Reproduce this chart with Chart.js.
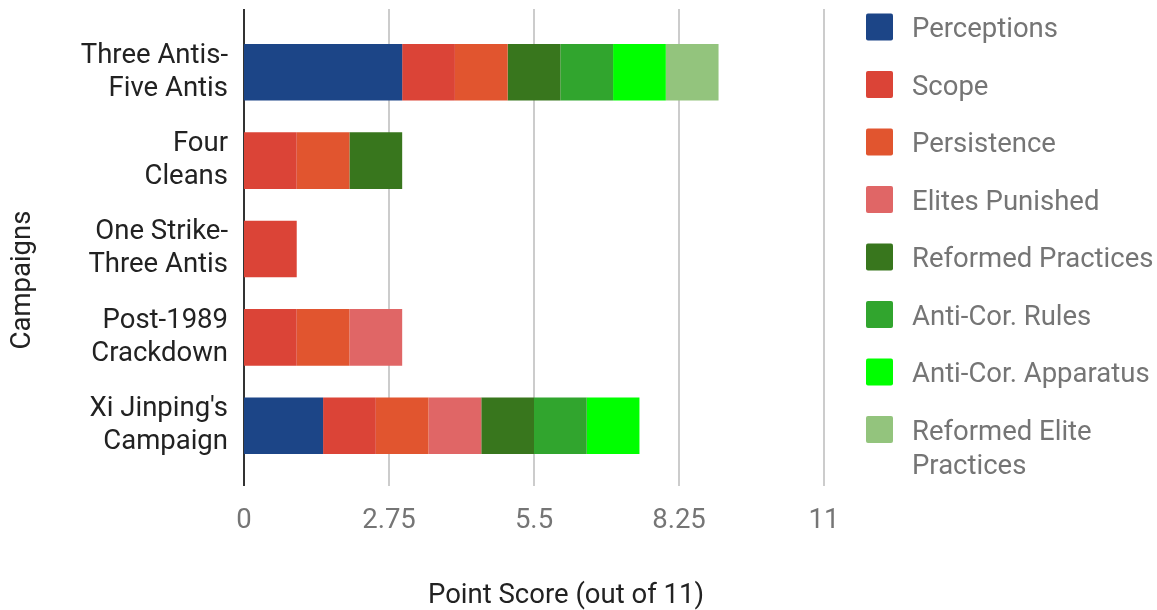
<!DOCTYPE html>
<html>
<head>
<meta charset="utf-8">
<script src="https://cdn.jsdelivr.net/npm/chart.js@4/dist/chart.umd.min.js"></script>
<style>
  html, body { margin: 0; padding: 0; background: #fff; }
  #wrap { position: relative; width: 1157px; height: 610px; }
</style>
</head>
<body>
<div id="wrap"><canvas id="chart" width="1157" height="610"></canvas></div>
<script>
// campaigns, top to bottom
const campaigns = [
  ['Three Antis-', 'Five Antis'],
  ['Four', 'Cleans'],
  ['One Strike-', 'Three Antis'],
  ['Post-1989', 'Crackdown'],
  ["Xi Jinping's", 'Campaign']
];

// point scores per criterion, same order as campaigns
const perceptions       = [3, 0, 0, 0, 1.5];
const scope             = [1, 1, 1, 1, 1];
const persistence       = [1, 1, 0, 1, 1];
const elitesPunished    = [0, 0, 0, 1, 1];
const reformedPractices = [1, 1, 0, 0, 1];
const antiCorRules      = [1, 0, 0, 0, 1];
const antiCorApparatus  = [1, 0, 0, 0, 1];
const reformedElite     = [1, 0, 0, 0, 0];

const xTicks = [0, 2.75, 5.5, 8.25, 11];
const xTickLabels = ['0', '2.75', '5.5', '8.25', '11'];

const series = [
  { label: 'Perceptions', data: perceptions, color: '#1c4587' },
  { label: 'Scope', data: scope, color: '#db4437' },
  { label: 'Persistence', data: persistence, color: '#e1552f' },
  { label: 'Elites Punished', data: elitesPunished, color: '#e06666' },
  { label: 'Reformed Practices', data: reformedPractices, color: '#38761d' },
  { label: 'Anti-Cor. Rules', data: antiCorRules, color: '#31a52e' },
  { label: 'Anti-Cor. Apparatus', data: antiCorApparatus, color: '#00ff00' },
  { label: 'Reformed Elite Practices', data: reformedElite, color: '#93c47d' }
];

const FONT = 'Roboto, "Noto Sans", sans-serif';
const FS = 27.5;

// gridlines and the zero line run a bit past the plot area, like the original
const extendedGrid = {
  id: 'extendedGrid',
  beforeDatasetsDraw(chart) {
    const { ctx, scales: { x } } = chart;
    const top = 9, bottom = 486;
    ctx.save();
    xTicks.forEach(v => {
      const px = Math.round(x.getPixelForValue(v));
      ctx.beginPath();
      ctx.lineWidth = 2;
      ctx.strokeStyle = v === 0 ? '#333333' : '#cccccc';
      ctx.moveTo(px, top);
      ctx.lineTo(px, bottom);
      ctx.stroke();
    });
    ctx.restore();
  }
};

// axis titles + wrapped legend on the right
const sideText = {
  id: 'sideText',
  afterDraw(chart) {
    const ctx = chart.ctx;
    ctx.save();
    ctx.font = FS + 'px ' + FONT;
    ctx.fillStyle = '#222222';
    ctx.textAlign = 'center';
    ctx.textBaseline = 'middle';
    ctx.fillText('Point Score (out of 11)', 566, 596);
    ctx.translate(23, 280);
    ctx.rotate(-Math.PI / 2);
    ctx.fillText('Campaigns', 0, 0);
    ctx.restore();

    ctx.save();
    ctx.font = FS + 'px ' + FONT;
    ctx.textAlign = 'left';
    ctx.textBaseline = 'middle';
    const boxX = 866, textX = 912, maxW = 245, step = 57.5, lineH = 34;
    chart.data.datasets.forEach((ds, i) => {
      const cy = 27 + i * step;
      ctx.fillStyle = ds.backgroundColor;
      ctx.beginPath();
      ctx.roundRect(boxX, cy - 13.5, 27, 27, 2);
      ctx.fill();
      // word wrap
      const words = ds.label.split(' ');
      const lines = [];
      let line = '';
      words.forEach(w => {
        const test = line ? line + ' ' + w : w;
        if (ctx.measureText(test).width > maxW && line) { lines.push(line); line = w; }
        else line = test;
      });
      lines.push(line);
      ctx.fillStyle = '#757575';
      lines.forEach((l, j) => ctx.fillText(l, textX, cy + 3.5 + j * lineH));
    });
    ctx.restore();
  }
};

new Chart(document.getElementById('chart'), {
  type: 'bar',
  data: {
    labels: campaigns,
    datasets: series.map(s => ({
      label: s.label,
      data: s.data,
      backgroundColor: s.color,
      borderWidth: 0
    }))
  },
  options: {
    indexAxis: 'y',
    responsive: false,
    animation: false,
    layout: { padding: { top: 28, right: 333, bottom: 0, left: 0 } },
    datasets: { bar: { categoryPercentage: 1, barPercentage: 0.64 } },
    plugins: {
      legend: { display: false },
      tooltip: { enabled: false }
    },
    scales: {
      x: {
        stacked: true,
        min: 0,
        max: 11,
        afterBuildTicks(scale) { scale.ticks = xTicks.map(v => ({ value: v })); },
        afterFit(scale) {
          scale.height = 140;
          scale.paddingLeft = 0;
          scale.paddingRight = 0;
        },
        grid: { display: false, drawTicks: false },
        border: { display: false },
        ticks: {
          padding: 35,
          color: '#757575',
          font: { family: FONT, size: FS },
          callback: (v, i) => xTickLabels[i]
        }
      },
      y: {
        stacked: true,
        afterFit(scale) {
          scale.width = 244;
          scale.paddingTop = 0;
          scale.paddingBottom = 0;
        },
        grid: { display: false, drawTicks: false },
        border: { display: false },
        ticks: {
          padding: 16,
          color: '#222222',
          font: { family: FONT, size: FS, lineHeight: 1.2 }
        }
      }
    }
  },
  plugins: [extendedGrid, sideText]
});
</script>
</body>
</html>
